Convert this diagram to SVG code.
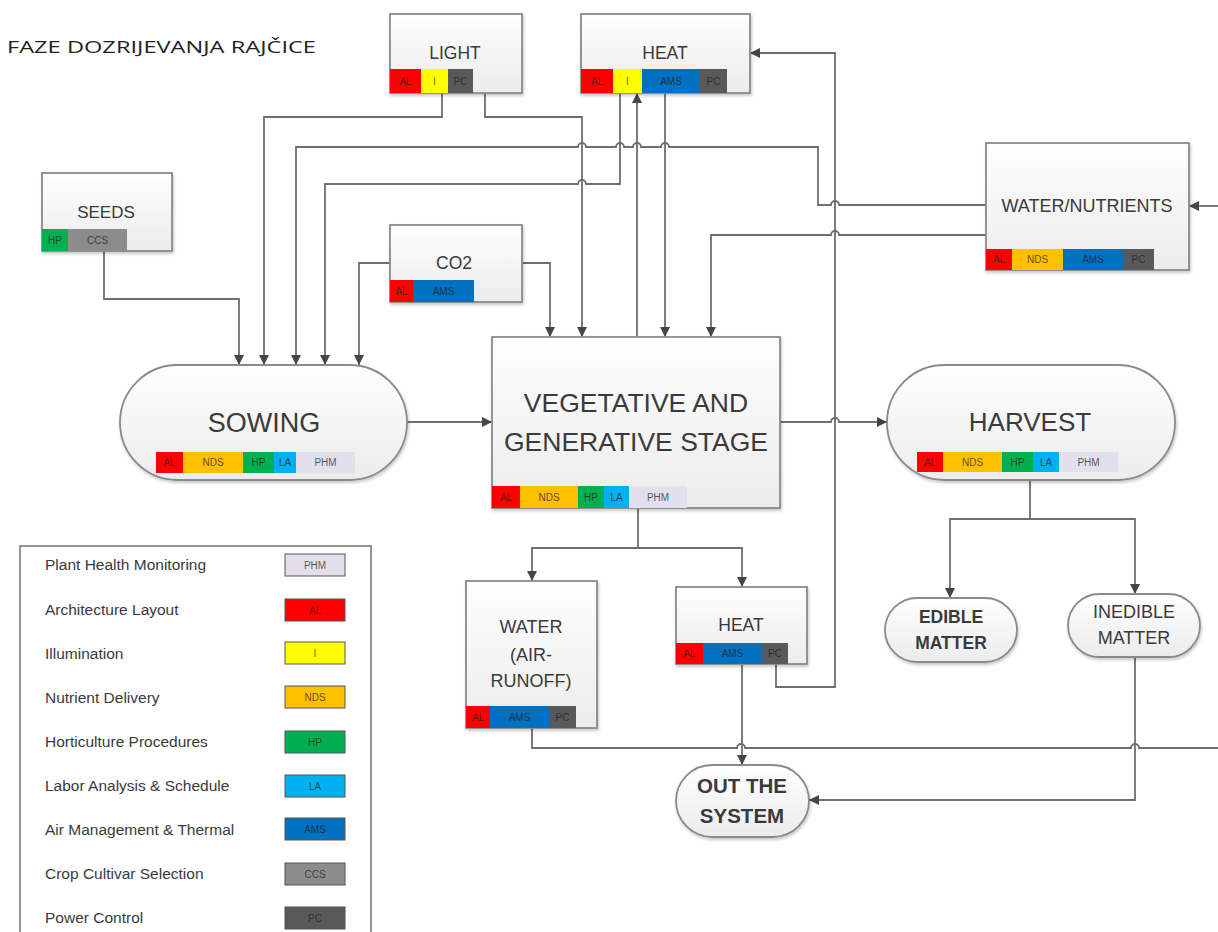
<svg xmlns="http://www.w3.org/2000/svg" width="1218" height="932" viewBox="0 0 1218 932">
<defs>
  <linearGradient id="g" x1="0" y1="0" x2="0" y2="1">
    <stop offset="0" stop-color="#fefefe"/>
    <stop offset="1" stop-color="#ececec"/>
  </linearGradient>
  <filter id="sh" x="-10%" y="-10%" width="120%" height="125%">
    <feDropShadow dx="1" dy="2" stdDeviation="1.5" flood-color="#000" flood-opacity="0.22"/>
  </filter>
  <marker id="ah" viewBox="0 0 10 10" refX="10" refY="5" markerWidth="10" markerHeight="10" markerUnits="userSpaceOnUse" orient="auto">
    <path d="M0,0 L10,5 L0,10 z" fill="#454545"/>
  </marker>
  <style>
    .box{fill:url(#g);stroke:#8a8a8a;stroke-width:1.8;filter:url(#sh)}
    .lbl{font-family:"Liberation Sans",Arial,sans-serif;fill:#3a3a3a;text-anchor:middle}
    .tt{font-family:"Liberation Sans",Arial,sans-serif;font-size:10px;fill:#1e1e1e;fill-opacity:0.75;text-anchor:middle}
    .lg{font-family:"Liberation Sans",Arial,sans-serif;font-size:15.5px;fill:#3a3a3a}
    .conn{fill:none;stroke:#6e6e6e;stroke-width:1.8}
    .arr{marker-end:url(#ah)}
    .AL{fill:#ff0000}.I{fill:#ffff00}.NDS{fill:#ffc000}.HP{fill:#00b050}.LA{fill:#00b0f0}
    .AMS{fill:#0070c0}.CCS{fill:#8c8c8c}.PC{fill:#595959}.PHM{fill:#e4dfec}
    .sw{stroke:#555;stroke-width:1}
  </style>
</defs>
<rect width="1218" height="932" fill="#ffffff"/>
<text x="7" y="53" font-family="'Open Sans','Liberation Sans',sans-serif" font-size="17" fill="#222" textLength="309" lengthAdjust="spacingAndGlyphs">FAZE DOZRIJEVANJA RAJČICE</text>

<g id="connectors">
  <path class="conn arr" d="M104,251 V299 H239 V365"/>
  <path class="conn arr" d="M442,93 V117 H264 V365"/>
  <path class="conn arr" d="M485,93 V117 H582 V337"/>
  <path class="conn arr" d="M986,205 H839 A4,4 0 0 0 831,205 H818 V147 H669 A4,4 0 0 0 661,147 H641 A4,4 0 0 0 633,147 H624 A4,4 0 0 0 616,147 H586 A4,4 0 0 0 578,147 H296 V365"/>
  <path class="conn arr" d="M620,93 V184 H586 A4,4 0 0 0 578,184 H325 V365"/>
  <path class="conn arr" d="M390,263 H359 V365"/>
  <path class="conn arr" d="M522,263 H550 V337"/>
  <path class="conn arr" d="M637,337 V93"/>
  <path class="conn arr" d="M665,93 V337"/>
  <path class="conn arr" d="M986,235 H839 A4,4 0 0 0 831,235 H711 V337"/>
  <path class="conn arr" d="M776,664 V687 H835 V53 H750"/>
  <path class="conn arr" d="M1218,206 H1189"/>
  <path class="conn arr" d="M407,422 H492"/>
  <path class="conn arr" d="M780,422 H831 A4,4 0 0 1 839,422 H887"/>
  <path class="conn arr" d="M638,508 V548 H532 V581"/>
  <path class="conn arr" d="M638,548 H742 V587"/>
  <path class="conn arr" d="M1030,480 V519 H950 V598"/>
  <path class="conn arr" d="M1030,519 H1135 V594"/>
  <path class="conn" d="M532,728 V748 H737 A4,4 0 0 1 745,748 H1131 A4,4 0 0 1 1139,748 H1218"/>
  <path class="conn arr" d="M742,664 V765"/>
  <path class="conn arr" d="M1135,657 V800 H809"/>
</g>

<g id="light">
  <rect class="box" x="390" y="14" width="132" height="79"/>
  <text class="lbl" x="455" y="59" font-size="17.5">LIGHT</text>
  <rect class="AL" x="390" y="69" width="31" height="24"/><text class="tt" x="405.5" y="84.5">AL</text>
  <rect class="I" x="421" y="69" width="27" height="24"/><text class="tt" x="434.5" y="84.5">I</text>
  <rect class="PC" x="448" y="69" width="25" height="24"/><text class="tt" x="460.5" y="84.5">PC</text>
</g>

<g id="heat-top">
  <rect class="box" x="581" y="14" width="169" height="79"/>
  <text class="lbl" x="665" y="59" font-size="17.5">HEAT</text>
  <rect class="AL" x="581" y="69" width="32" height="24"/><text class="tt" x="597" y="84.5">AL</text>
  <rect class="I" x="613" y="69" width="29" height="24"/><text class="tt" x="627.5" y="84.5">I</text>
  <rect class="AMS" x="642" y="69" width="58" height="24"/><text class="tt" x="671" y="84.5">AMS</text>
  <rect class="PC" x="700" y="69" width="27" height="24"/><text class="tt" x="713.5" y="84.5">PC</text>
</g>

<g id="seeds">
  <rect class="box" x="42" y="173" width="130" height="78"/>
  <text class="lbl" x="106" y="218" font-size="17">SEEDS</text>
  <rect class="HP" x="42" y="229" width="26" height="22"/><text class="tt" x="55" y="243.5">HP</text>
  <rect class="CCS" x="68" y="229" width="59" height="22"/><text class="tt" x="97.5" y="243.5">CCS</text>
</g>

<g id="co2">
  <rect class="box" x="390" y="225" width="132" height="77"/>
  <text class="lbl" x="454" y="269" font-size="17.5">CO2</text>
  <rect class="AL" x="390" y="280" width="23" height="22"/><text class="tt" x="401.5" y="294.5">AL</text>
  <rect class="AMS" x="413" y="280" width="61" height="22"/><text class="tt" x="443.5" y="294.5">AMS</text>
</g>

<g id="water-nutrients">
  <rect class="box" x="986" y="143" width="203" height="127"/>
  <text class="lbl" x="1087" y="212" font-size="18">WATER/NUTRIENTS</text>
  <rect class="AL" x="986" y="249" width="26" height="21"/><text class="tt" x="999" y="263">AL</text>
  <rect class="NDS" x="1012" y="249" width="51" height="21"/><text class="tt" x="1037.5" y="263">NDS</text>
  <rect class="AMS" x="1063" y="249" width="60" height="21"/><text class="tt" x="1093" y="263">AMS</text>
  <rect class="PC" x="1123" y="249" width="31" height="21"/><text class="tt" x="1138.5" y="263">PC</text>
</g>

<g id="sowing">
  <rect class="box" x="120" y="365" width="287" height="115" rx="57.5"/>
  <text class="lbl" x="264" y="432" font-size="27">SOWING</text>
  <rect class="AL" x="156" y="452" width="27" height="21"/><text class="tt" x="169.5" y="466">AL</text>
  <rect class="NDS" x="183" y="452" width="60" height="21"/><text class="tt" x="213" y="466">NDS</text>
  <rect class="HP" x="243" y="452" width="31" height="21"/><text class="tt" x="258.5" y="466">HP</text>
  <rect class="LA" x="274" y="452" width="22" height="21"/><text class="tt" x="285" y="466">LA</text>
  <rect class="PHM" x="296" y="452" width="59" height="21"/><text class="tt" x="325.5" y="466">PHM</text>
</g>

<g id="vegetative">
  <rect class="box" x="492" y="337" width="288" height="171"/>
  <text class="lbl" x="636" y="412" font-size="26.5">VEGETATIVE AND</text>
  <text class="lbl" x="636" y="451" font-size="26.5">GENERATIVE STAGE</text>
  <rect class="AL" x="492" y="486" width="28" height="22"/><text class="tt" x="506" y="500.5">AL</text>
  <rect class="NDS" x="520" y="486" width="58" height="22"/><text class="tt" x="549" y="500.5">NDS</text>
  <rect class="HP" x="578" y="486" width="26" height="22"/><text class="tt" x="591" y="500.5">HP</text>
  <rect class="LA" x="604" y="486" width="25" height="22"/><text class="tt" x="616.5" y="500.5">LA</text>
  <rect class="PHM" x="629" y="486" width="58" height="22"/><text class="tt" x="658" y="500.5">PHM</text>
</g>

<g id="harvest">
  <rect class="box" x="887" y="365" width="288" height="115" rx="57.5"/>
  <text class="lbl" x="1030" y="431" font-size="26">HARVEST</text>
  <rect class="AL" x="917" y="452" width="26" height="20"/><text class="tt" x="930" y="465.5">AL</text>
  <rect class="NDS" x="943" y="452" width="59" height="20"/><text class="tt" x="972.5" y="465.5">NDS</text>
  <rect class="HP" x="1002" y="452" width="31" height="20"/><text class="tt" x="1017.5" y="465.5">HP</text>
  <rect class="LA" x="1033" y="452" width="26" height="20"/><text class="tt" x="1046" y="465.5">LA</text>
  <rect class="PHM" x="1059" y="452" width="59" height="20"/><text class="tt" x="1088.5" y="465.5">PHM</text>
</g>

<g id="water-runoff">
  <rect class="box" x="466" y="581" width="131" height="147"/>
  <text class="lbl" x="531" y="633" font-size="18">WATER</text>
  <text class="lbl" x="531" y="661" font-size="18">(AIR-</text>
  <text class="lbl" x="531" y="687" font-size="18">RUNOFF)</text>
  <rect class="AL" x="466" y="706" width="24" height="22"/><text class="tt" x="478" y="720.5">AL</text>
  <rect class="AMS" x="490" y="706" width="59" height="22"/><text class="tt" x="519.5" y="720.5">AMS</text>
  <rect class="PC" x="549" y="706" width="27" height="22"/><text class="tt" x="562.5" y="720.5">PC</text>
</g>

<g id="heat-bottom">
  <rect class="box" x="676" y="587" width="131" height="77"/>
  <text class="lbl" x="741" y="631" font-size="17.5">HEAT</text>
  <rect class="AL" x="676" y="643" width="27" height="21"/><text class="tt" x="689.5" y="657">AL</text>
  <rect class="AMS" x="703" y="643" width="59" height="21"/><text class="tt" x="732.5" y="657">AMS</text>
  <rect class="PC" x="762" y="643" width="26" height="21"/><text class="tt" x="775" y="657">PC</text>
</g>

<g id="edible">
  <rect class="box" x="885" y="598" width="132" height="64" rx="32"/>
  <text class="lbl" x="951" y="623" font-size="17.5" font-weight="bold">EDIBLE</text>
  <text class="lbl" x="951" y="649" font-size="17.5" font-weight="bold">MATTER</text>
</g>

<g id="inedible">
  <rect class="box" x="1068" y="594" width="132" height="63" rx="31.5"/>
  <text class="lbl" x="1134" y="618" font-size="18">INEDIBLE</text>
  <text class="lbl" x="1134" y="644" font-size="18">MATTER</text>
</g>

<g id="out-system">
  <rect class="box" x="676" y="765" width="133" height="72" rx="36"/>
  <text class="lbl" x="742" y="793" font-size="20.5" font-weight="bold">OUT THE</text>
  <text class="lbl" x="742" y="823" font-size="20.5" font-weight="bold">SYSTEM</text>
</g>

<g id="legend">
  <rect x="20" y="546" width="351" height="400" fill="#ffffff" stroke="#8a8a8a" stroke-width="1.8"/>
  <text class="lg" x="45" y="570">Plant Health Monitoring</text>
  <rect class="PHM sw" x="285" y="554" width="60" height="22"/><text class="tt" x="315" y="568.5">PHM</text>
  <text class="lg" x="45" y="615">Architecture Layout</text>
  <rect class="AL sw" x="285" y="599" width="60" height="22"/><text class="tt" x="315" y="613.5">AL</text>
  <text class="lg" x="45" y="659">Illumination</text>
  <rect class="I sw" x="285" y="642" width="60" height="22"/><text class="tt" x="315" y="656.5">I</text>
  <text class="lg" x="45" y="703">Nutrient Delivery</text>
  <rect class="NDS sw" x="285" y="686" width="60" height="22"/><text class="tt" x="315" y="700.5">NDS</text>
  <text class="lg" x="45" y="747">Horticulture Procedures</text>
  <rect class="HP sw" x="285" y="731" width="60" height="22"/><text class="tt" x="315" y="745.5">HP</text>
  <text class="lg" x="45" y="791">Labor Analysis &amp; Schedule</text>
  <rect class="LA sw" x="285" y="775" width="60" height="22"/><text class="tt" x="315" y="789.5">LA</text>
  <text class="lg" x="45" y="835">Air Management &amp; Thermal</text>
  <rect class="AMS sw" x="285" y="818" width="60" height="22"/><text class="tt" x="315" y="832.5">AMS</text>
  <text class="lg" x="45" y="879">Crop Cultivar Selection</text>
  <rect class="CCS sw" x="285" y="863" width="60" height="22"/><text class="tt" x="315" y="877.5">CCS</text>
  <text class="lg" x="45" y="923">Power Control</text>
  <rect class="PC sw" x="285" y="907" width="60" height="22"/><text class="tt" x="315" y="921.5">PC</text>
</g>
</svg>
